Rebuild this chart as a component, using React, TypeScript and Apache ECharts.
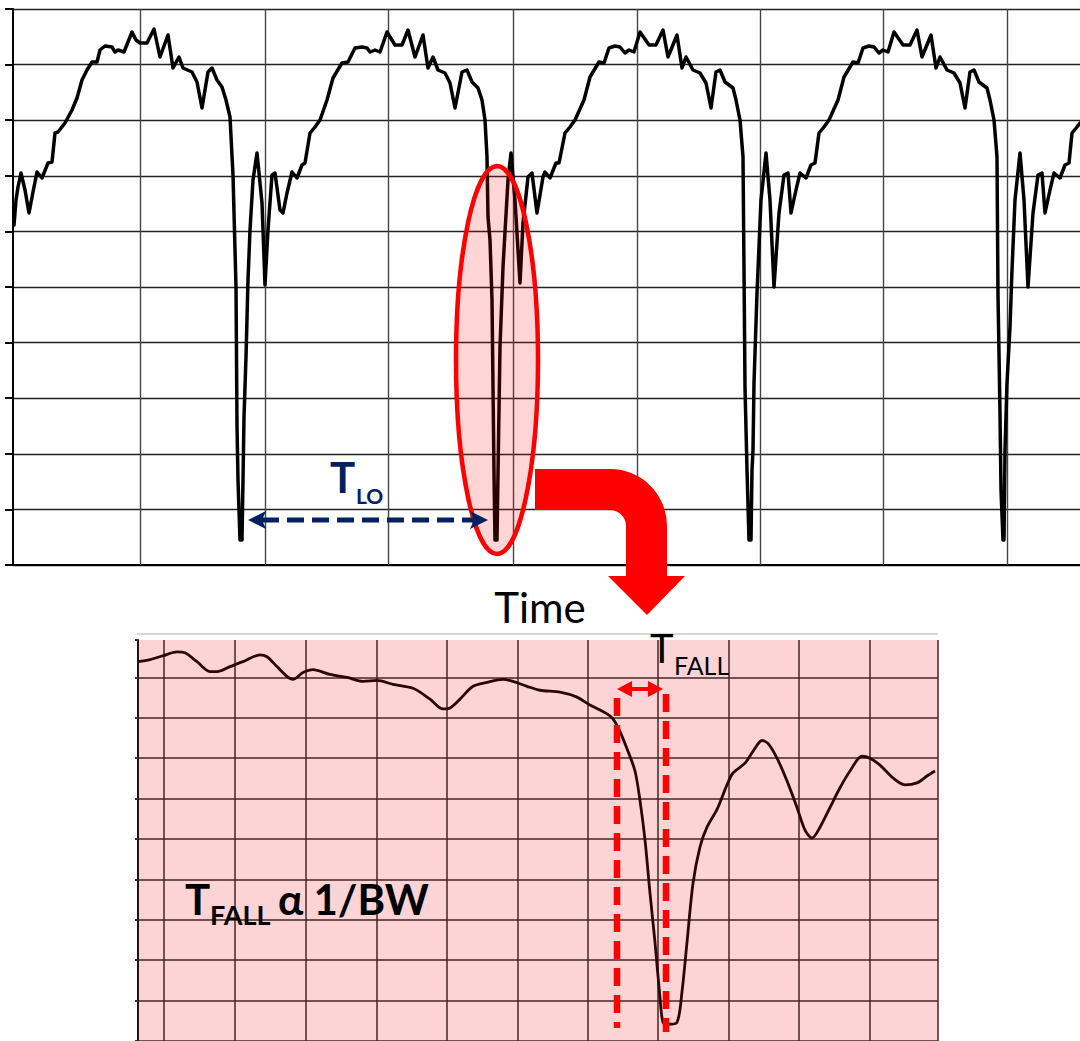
import React, { useEffect, useRef } from 'react';
import * as echarts from 'echarts';

// ---------- DATA ----------
// Top trace: [time, amplitude]; amplitude grid divisions = 55.6 units
const topTrace: [number, number][] = [
  [14,340],[16,365],[18,378],[21,392],[25,375],[29,352],[33,373],[37,393],[42,387],[48,402],[52,403],[55,432],[58,433],[65,442],[72,455],[77,467],[82,485],[87,495],[92,503],[97,503],[100,515],[105,519],[112,518],[115,513],[118,515],[124,513],[132,533],[136,525],[140,522],[147,522],[154,536],[160,508],[168,530],[173,497],[179,508],[183,497],[192,493],[197,483],[202,457],[208,493],[212,497],[217,485],[222,478],[226,465],[230,448],[233,390],[236,278],[237,140],[238,85],[240,25],[242,25],[243,85],[244,148],[246,208],[248,285],[250,335],[253,385],[257,412],[262,362],[265,280],[268,335],[272,390],[275,392],[280,355],[283,352],[287,372],[292,393],[297,387],[302,400],[305,402],[310,432],[315,438],[320,445],[327,465],[333,487],[342,502],[348,503],[355,517],[362,518],[367,517],[370,513],[375,515],[380,513],[387,533],[395,520],[402,520],[408,535],[415,508],[423,530],[428,497],[433,508],[438,495],[445,492],[450,482],[455,457],[462,493],[467,495],[472,483],[478,477],[482,465],[485,445],[487,408],[488,348],[490,325],[492,265],[493,178],[494,92],[495,25],[497,25],[498,92],[500,218],[503,298],[508,385],[511,412],[515,365],[520,282],[523,342],[528,388],[532,392],[537,352],[543,388],[545,393],[550,387],[556,402],[559,402],[565,432],[570,438],[575,445],[584,465],[590,488],[599,503],[604,502],[609,517],[615,519],[620,518],[625,512],[629,515],[634,513],[640,533],[649,520],[656,520],[663,535],[668,508],[677,530],[682,497],[686,508],[693,495],[700,492],[706,482],[711,457],[716,493],[720,495],[725,483],[733,477],[736,465],[740,445],[743,408],[744,295],[745,178],[747,95],[749,25],[751,25],[752,95],[753,115],[754,182],[757,272],[758,295],[761,365],[766,412],[770,365],[774,278],[779,352],[784,390],[788,392],[791,352],[796,375],[800,392],[806,387],[811,400],[815,402],[819,432],[824,438],[829,445],[838,465],[844,488],[853,503],[858,502],[863,517],[869,519],[874,518],[879,512],[883,515],[888,513],[894,533],[903,520],[910,520],[917,535],[922,508],[931,530],[936,497],[940,508],[947,495],[954,492],[960,482],[965,457],[970,493],[974,495],[979,483],[987,477],[990,465],[994,445],[997,408],[998,270],[1000,152],[1001,75],[1003,25],[1004,25],[1005,115],[1007,182],[1010,238],[1012,295],[1015,365],[1020,412],[1024,365],[1028,278],[1033,352],[1038,390],[1042,392],[1045,352],[1050,375],[1054,392],[1060,387],[1065,400],[1069,402],[1072,432],[1077,438],[1080,442]
];
const topGridTimes: number[] = [140, 265, 388, 513, 637, 760, 883, 1007];

// Zoomed trace: [time, amplitude]; grid divisions = 41 units
const zoomTrace: [number, number][] = [
  [138,385],[150,387],[163,391],[177,395],[185,394],[197,385],[210,375],[217,375],[230,380],[243,385],[260,392],[267,390],[277,380],[287,370],[293,367],[303,374],[313,377],[330,372],[347,369],[363,365],[377,366],[393,362],[413,358],[430,347],[443,337],[450,338],[460,347],[473,360],[487,364],[503,367],[513,365],[527,360],[540,356],[560,354],[577,349],[590,341],[607,332],[613,327],[620,314],[628,294],[635,274],[640,244],[645,204],[650,150],[655,100],[660,44],[663,19],[668,17],[677,19],[682,50],[687,100],[693,160],[700,197],[707,217],[717,235],[727,260],[733,272],[745,282],[753,294],[762,305],[768,302],[777,287],[787,264],[797,237],[805,214],[812,206],[820,217],[830,237],[840,257],[850,274],[862,289],[870,287],[880,280],[893,267],[905,260],[917,262],[927,269],[935,274]
];
const zoomGridTimes: number[] = [164, 235, 306, 377, 447, 518, 588, 658, 729, 799, 870, 938];

const xLabel = 'Time';

// ---------- custom shape (curved red arrow) ----------
const arrowPath =
  'M535 469 L610 469 A57 57 0 0 1 667 526 L667 576 L685 576 L647 615 L608 576 L626 576 L626 526 A16 16 0 0 0 610 510 L535 510 Z';
echarts.graphic.registerShape('curvedArrow', echarts.graphic.extendPath(arrowPath, {}) as any);

const FONT = 'Lato, "Noto Sans", sans-serif';

export default function App() {
  const ref = useRef<HTMLDivElement>(null);

  useEffect(() => {
    if (!ref.current) return;
    const chart = echarts.init(ref.current, null, { renderer: 'svg' });
    const navy = '#002060';
    const red = '#ff0000';

    const option: any = {
      animation: false,
      grid: [
        { left: 13, right: 0, top: 9, height: 556 },
        { left: 138, right: 142, top: 640, bottom: -6, show: true, backgroundColor: '#fdd4d5', borderWidth: 0 },
      ],
      xAxis: [
        {
          gridIndex: 0, type: 'value', min: 13, max: 1080,
          axisLine: { show: true, onZero: false, lineStyle: { color: '#000', width: 2 } },
          axisTick: { show: false }, axisLabel: { show: false }, splitLine: { show: false },
        },
        {
          gridIndex: 1, type: 'value', min: 138, max: 938,
          axisLine: { show: false }, axisTick: { show: false }, axisLabel: { show: false }, splitLine: { show: false },
        },
      ],
      yAxis: [
        {
          gridIndex: 0, type: 'value', min: 0, max: 556, interval: 55.6,
          axisLine: { show: true, lineStyle: { color: '#000', width: 2 } },
          axisTick: { show: true, length: 8, lineStyle: { color: '#000', width: 2 } },
          axisLabel: { show: false },
          splitLine: { show: true, lineStyle: { color: '#222', width: 1.4 } },
        },
        {
          gridIndex: 1, type: 'value', min: 0, max: 407, interval: 41,
          axisLine: { show: true, lineStyle: { color: '#2a1212', width: 2 } },
          axisTick: { show: true, length: 3, lineStyle: { color: '#333', width: 2 } },
          axisLabel: { show: false },
          splitLine: { show: true, showMaxLine: false, lineStyle: { color: '#452525', width: 1.5 } },
        },
      ],
      series: [
        {
          type: 'line', xAxisIndex: 0, yAxisIndex: 0, data: topTrace, showSymbol: false, silent: true, z: 3,
          lineStyle: { color: '#000', width: 3.5, join: 'round', cap: 'round' },
          markLine: {
            silent: true, z: 1, symbol: ['none', 'none'], label: { show: false },
            lineStyle: { color: '#444', width: 1.4, type: 'solid' },
            data: topGridTimes.map((t) => ({ xAxis: t })),
          },
        },
        {
          type: 'line', xAxisIndex: 1, yAxisIndex: 1, data: zoomTrace, showSymbol: false, silent: true, z: 3,
          smooth: 0.3,
          lineStyle: { color: '#2a0606', width: 2.8 },
          markLine: {
            silent: true, z: 1, symbol: ['none', 'none'], label: { show: false },
            lineStyle: { color: '#452525', width: 1.5, type: 'solid' },
            data: zoomGridTimes.map((t) => ({ xAxis: t })),
          },
        },
      ],
      graphic: [
        { type: 'line', z: 50, shape: { x1: 137, y1: 634, x2: 938, y2: 634 }, style: { stroke: '#d6d6d6', lineWidth: 2 } },
        {
          type: 'ellipse', z: 100, shape: { cx: 497, cy: 360, rx: 41, ry: 194 },
          style: { fill: 'rgba(255,0,0,0.165)', stroke: red, lineWidth: 4.5 },
        },
        { type: 'curvedArrow', z: 100, x: 0, y: 0, style: { fill: red } },
        { type: 'line', z: 100, shape: { x1: 262, y1: 520, x2: 474, y2: 520 }, style: { stroke: navy, lineWidth: 5, lineDash: [17, 8] } },
        { type: 'polygon', z: 100, shape: { points: [[248, 520], [266, 511], [262, 520], [266, 529]] }, style: { fill: navy } },
        { type: 'polygon', z: 100, shape: { points: [[488, 520], [470, 511], [474, 520], [470, 529]] }, style: { fill: navy } },
        { type: 'text', z: 100, style: { text: 'T', x: 330, y: 477, fontSize: 42, fontWeight: 'bold', fontFamily: FONT, fill: navy, align: 'left', verticalAlign: 'middle' } },
        { type: 'text', z: 100, style: { text: 'LO', x: 356, y: 495, fontSize: 21, fontWeight: 'bold', fontFamily: FONT, fill: navy, align: 'left', verticalAlign: 'middle' } },
        { type: 'text', z: 100, style: { text: xLabel, x: 540, y: 607, fontSize: 42, fontFamily: FONT, fill: '#000', align: 'center', verticalAlign: 'middle' } },
        { type: 'text', z: 100, style: { text: 'T', x: 650, y: 648, fontSize: 40, fontFamily: FONT, fill: '#000', align: 'left', verticalAlign: 'middle' } },
        { type: 'text', z: 100, style: { text: 'FALL', x: 674, y: 665, fontSize: 25, fontFamily: FONT, fill: '#000', align: 'left', verticalAlign: 'middle' } },
        { type: 'line', z: 100, shape: { x1: 629, y1: 689, x2: 651, y2: 689 }, style: { stroke: red, lineWidth: 4 } },
        { type: 'polygon', z: 100, shape: { points: [[617, 689], [632, 681], [632, 697]] }, style: { fill: red } },
        { type: 'polygon', z: 100, shape: { points: [[663, 689], [648, 681], [648, 697]] }, style: { fill: red } },
        { type: 'line', z: 100, shape: { x1: 617, y1: 698, x2: 617, y2: 1028 }, style: { stroke: red, lineWidth: 6.5, lineDash: [18, 9] } },
        { type: 'line', z: 100, shape: { x1: 666, y1: 694, x2: 666, y2: 1032 }, style: { stroke: red, lineWidth: 6.5, lineDash: [18, 9] } },
        { type: 'text', z: 100, style: { text: 'T', x: 185, y: 899, fontSize: 42, fontWeight: 'bold', fontFamily: FONT, fill: '#000', align: 'left', verticalAlign: 'middle' } },
        { type: 'text', z: 100, style: { text: 'FALL', x: 210, y: 914, fontSize: 27, fontWeight: 'bold', fontFamily: FONT, fill: '#000', align: 'left', verticalAlign: 'middle' } },
        { type: 'text', z: 100, style: { text: 'α 1/BW', x: 278, y: 899, fontSize: 42, fontWeight: 'bold', fontFamily: FONT, fill: '#000', align: 'left', verticalAlign: 'middle' } },
      ],
    };

    chart.setOption(option);
    return () => chart.dispose();
  }, []);

  return <div ref={ref} style={{ position: 'fixed', left: 0, top: 0, width: 1080, height: 1041, background: '#fff' }} />;
}
